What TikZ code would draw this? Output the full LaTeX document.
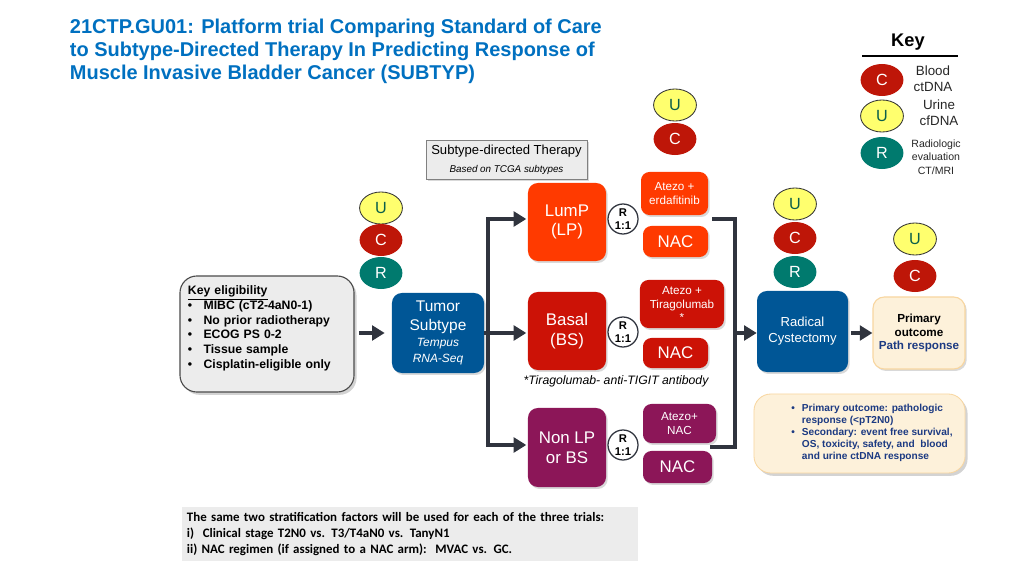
\documentclass[tikz,border=0pt]{standalone}
\usepackage{fontspec}
\setmainfont{Liberation Sans}
\newfontfamily\calibri{Carlito}
\usetikzlibrary{shapes.geometric}
\usetikzlibrary{arrows.meta}
\usetikzlibrary{shadows}

\definecolor{titleblue}{RGB}{0,112,192}
\definecolor{navybox}{RGB}{0,86,150}
\definecolor{lumporange}{RGB}{255,58,0}
\definecolor{basalred}{RGB}{204,18,6}
\definecolor{nonlppurple}{RGB}{140,22,88}
\definecolor{markred}{RGB}{190,22,8}
\definecolor{markyellow}{RGB}{255,255,110}
\definecolor{markgreen}{RGB}{10,95,75}
\definecolor{markteal}{RGB}{0,122,110}
\definecolor{flowgray}{RGB}{48,52,62}
\definecolor{panelgray}{RGB}{236,236,236}
\definecolor{creamfill}{RGB}{253,241,218}
\definecolor{creamedge}{RGB}{248,214,160}
\definecolor{notenavy}{RGB}{28,58,130}

\tikzset{
  softshadow/.style={drop shadow={shadow xshift=1.2pt, shadow yshift=-1.4pt, opacity=0.3}},
  marker/.style={ellipse, inner sep=0pt, minimum width=1.07cm, minimum height=0.8cm,
    font=\fontsize{11.5}{12}\selectfont},
  bloodC/.style={marker, fill=markred, text=white},
  urineU/.style={marker, fill=markyellow, draw=black!80, line width=0.6pt, text=markgreen},
  radioR/.style={marker, fill=markteal, text=white},
  subtype/.style={rounded corners=7pt, fill=#1, text=white, align=center,
    minimum width=1.95cm, minimum height=1.95cm, font=\fontsize{12}{14}\selectfont, softshadow},
  armbox/.style={rounded corners=6pt, fill=#1, text=white, align=center, inner sep=1pt,
    font=\fontsize{8.3}{9.8}\selectfont, softshadow},
  nacbox/.style={armbox=#1, font=\fontsize{12}{14}\selectfont},
  randcircle/.style={circle, draw=flowgray, line width=0.9pt, fill=white, minimum size=0.75cm,
    inner sep=0pt, align=center, font=\bfseries\fontsize{8}{9}\selectfont},
  flow/.style={draw=flowgray, line width=2.6pt},
  flowarrow/.style={flow, -{Triangle[length=9pt, width=10.5pt]}},
}

\begin{document}
\begin{tikzpicture}[x=0.025cm, y=-0.025cm]
  \useasboundingbox (0,0) rectangle (1024,576);

  % title
  \node[anchor=west, align=left, text=titleblue, font=\bfseries\fontsize{14.2}{16.3}\selectfont]
    (title) at (65,51.5) {21CTP.GU01: Platform trial Comparing Standard of Care\\
    to Subtype-Directed Therapy In Predicting Response of\\
    Muscle Invasive Bladder Cancer (SUBTYP)};

  % key
  \node[font=\bfseries\fontsize{13}{14}\selectfont] (keytitle) at (908,42) {Key};
  \draw[line width=1.6pt] (862,56) -- (958,56);
  \node[bloodC] (keyC) at (882,80) {C};
  \node[urineU] (keyU) at (882,116) {U};
  \node[radioR] (keyR) at (882,153) {R};
  \node[align=center, font=\fontsize{9.5}{11.5}\selectfont, text=black!85] (keyCtext) at (933,79) {Blood\\ctDNA};
  \node[align=center, font=\fontsize{9.5}{11.5}\selectfont, text=black!85] (keyUtext) at (939,113) {Urine\\cfDNA};
  \node[align=center, font=\fontsize{7.5}{9.5}\selectfont, text=black!85] (keyRtext) at (936,157) {Radiologic\\evaluation\\CT/MRI};

  % eligibility
  \node[draw=black!70, line width=0.8pt, fill=panelgray, rounded corners=12pt,
    minimum width=4.35cm, minimum height=2.9cm, text width=3.95cm, align=left,
    font=\bfseries\fontsize{8.7}{10.5}\selectfont,
    drop shadow={shadow xshift=1.8pt, shadow yshift=-2pt, opacity=0.35}]
    (elig) at (267,334) {\underline{Key eligibility}\\
    \makebox[3.9mm][l]{\textbullet}MIBC (cT2-4aN0-1)\\
    \makebox[3.9mm][l]{\textbullet}No prior radiotherapy\\
    \makebox[3.9mm][l]{\textbullet}ECOG PS 0-2\\
    \makebox[3.9mm][l]{\textbullet}Tissue sample\\
    \makebox[3.9mm][l]{\textbullet}Cisplatin-eligible only\\[-0.5pt]\mbox{}};

  \node[urineU] (eligU) at (381,208) {U};
  \node[bloodC] (eligC) at (381,240) {C};
  \node[radioR] (eligR) at (381,273) {R};

  % tumour subtype
  \node[subtype=navybox, minimum width=2.3cm, minimum height=2cm, font=\fontsize{11}{13.5}\selectfont]
    (tumor) at (438,333) {Tumor\\Subtype\\[-2.5pt]\textit{\fontsize{8.5}{10}\selectfont Tempus}\\[-2pt]
    \textit{\fontsize{8.5}{10}\selectfont RNA-Seq}};

  \node[draw=black!50, fill=panelgray, minimum width=4.025cm, minimum height=0.975cm,
    align=center, font=\fontsize{9.3}{11}\selectfont, softshadow]
    (directed) at (506.5,159.5) {Subtype-directed Therapy\\[1.5pt]
    \textit{\fontsize{7}{8}\selectfont Based on TCGA subtypes}};

  % arms
  \node[subtype=lumporange] (lump) at (567,222) {LumP\\(LP)};
  \node[subtype=basalred] (basal) at (567,331) {Basal\\(BS)};
  \node[subtype=nonlppurple, minimum height=1.975cm] (nonlp) at (567,447.5) {Non LP\\or BS};

  \node[randcircle] (randLP) at (623,219) {R\\1:1};
  \node[randcircle] (randBS) at (623,332) {R\\1:1};
  \node[randcircle] (randNL) at (623,445) {R\\1:1};

  \node[armbox=lumporange, minimum width=1.675cm, minimum height=1.075cm] (atezoLP) at (674.5,193.5) {Atezo +\\erdafitinib};
  \node[nacbox=lumporange, minimum width=1.625cm, minimum height=0.775cm] (nacLP) at (675.5,241.5) {NAC};
  \node[armbox=basalred, minimum width=2.1cm, minimum height=1.2cm] (atezoBS) at (682,304) {Atezo +\\Tiragolumab\\*};
  \node[nacbox=basalred, minimum width=1.625cm, minimum height=0.75cm] (nacBS) at (675.5,353) {NAC};
  \node[armbox=nonlppurple, minimum width=1.825cm, minimum height=0.975cm] (atezoNL) at (679.5,423.5) {Atezo+\\NAC};
  \node[nacbox=nonlppurple, minimum width=1.725cm, minimum height=0.8cm] (nacNL) at (677.5,467) {NAC};

  \node[font=\itshape\fontsize{8.7}{10}\selectfont] (footnote) at (616,381) {*Tiragolumab- anti-TIGIT antibody};

  \node[urineU] (lumpU) at (675,105) {U};
  \node[bloodC] (lumpC) at (675,139) {C};

  % branching
  \coordinate (split) at (488,333);
  \coordinate (splittop) at (488,219);
  \coordinate (splitbot) at (488,445);
  \draw[flow] (tumor.east) -- (split);
  \draw[flow, line cap=rect] (splittop) -- (splitbot);
  \draw[flowarrow, shorten >=1pt] (splittop) -- (lump.west |- splittop);
  \draw[flowarrow, shorten >=1pt] (split) -- (basal.west |- split);
  \draw[flowarrow, shorten >=1pt] (splitbot) -- (nonlp.west |- splitbot);
  \draw[flowarrow, shorten <=3pt, shorten >=5pt] (elig.east |- tumor.west) -- (tumor.west);

  % collecting bracket
  \coordinate (brtopin) at (712,219);
  \coordinate (brtop) at (735,219);
  \coordinate (brbotin) at (710,447);
  \coordinate (brbot) at (735,447);
  \coordinate (brmid) at (735,333);
  \draw[flow] (brtopin) -- (brtop) -- (brbot) -- (brbotin);

  % surgery and outcome
  \node[subtype=navybox, minimum width=2.275cm, minimum height=2.025cm, font=\fontsize{9.3}{11.5}\selectfont]
    (radical) at (802.5,331.5) {Radical\\Cystectomy};
  \node[fill=creamfill, draw=creamedge, line width=0.8pt, rounded corners=8pt, minimum width=2.3cm,
    minimum height=1.8cm, align=center, font=\bfseries\fontsize{8.3}{9.4}\selectfont, softshadow]
    (primary) at (919,333) {Primary\\outcome\\\textcolor{notenavy}{Path response}};
  \draw[flowarrow] (brmid) -- (radical.west |- brmid);
  \draw[flowarrow, shorten <=2pt] (radical.east |- primary.west) -- (primary.west);

  \node[urineU] (radU) at (795,204) {U};
  \node[bloodC] (radC) at (795,238) {C};
  \node[radioR] (radR) at (795,272) {R};
  \node[urineU] (primU) at (915,239) {U};
  \node[bloodC] (primC) at (915,276) {C};

  % endpoints note
  \node[fill=creamfill, draw=creamedge, line width=0.6pt, rounded corners=12pt, minimum width=5.275cm,
    minimum height=1.975cm, drop shadow={shadow xshift=1.8pt, shadow yshift=-2pt, opacity=0.35}]
    (endpoints) at (859.5,433.5) {};
  \node[text=notenavy, font=\bfseries\fontsize{7.2}{8.6}\selectfont, align=left]
    (endpointtext) at (872,433) {\begin{tabular}{@{}l@{\hspace{5pt}}l@{}}
    \textbullet & Primary outcome: pathologic\\
     & response (<pT2N0)\\
    \textbullet & Secondary: event free survival,\\
     & OS, toxicity, safety, and\ \ blood\\
     & and urine ctDNA response
    \end{tabular}};

  % stratification
  \node[fill=panelgray, minimum width=11.35cm, minimum height=1.35cm, text width=11.15cm, align=left,
    font=\calibri\bfseries\fontsize{9.2}{11.4}\selectfont]
    (strata) at (410,534) {The same two stratification factors will be used for each of the three trials:\\
    i)\ \ Clinical stage T2N0 vs. T3/T4aN0 vs. TanyN1\\
    ii) NAC regimen (if assigned to a NAC arm):\ \ MVAC vs. GC.};
\end{tikzpicture}
\end{document}
